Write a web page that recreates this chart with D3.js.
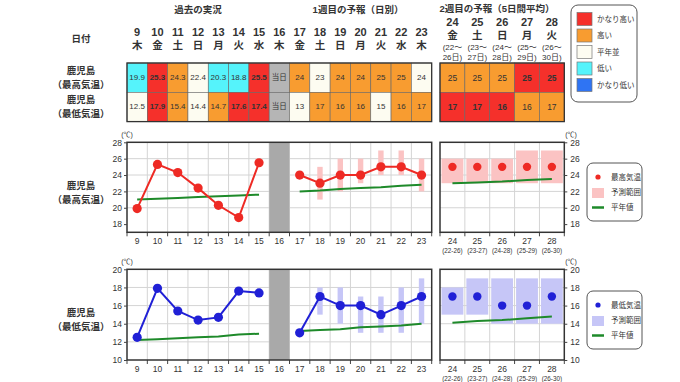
<!DOCTYPE html>
<html>
<head>
<meta charset="utf-8">
<script src="https://cdn.jsdelivr.net/npm/d3@7"></script>
<style>
  body { margin: 0; background: #fff; }
  svg text { font-family: "Liberation Sans", "Noto Sans CJK JP", sans-serif; fill: #333; }
</style>
</head>
<body>
<svg id="chart" width="680" height="382"></svg>
<script>
// days / labels
const days = ['9','10','11','12','13','14','15','16','17','18','19','20','21','22','23'];
const weekdays = ['木','金','土','日','月','火','水','木','金','土','日','月','火','水','木'];
const pastDays = ['9','10','11','12','13','14','15'];
const week1Days = ['17','18','19','20','21','22','23'];
const week2Days = ['24','25','26','27','28'];
const week2Weekdays = ['金','土','日','月','火'];
const week2From = ['22','23','24','25','26'];
const week2To = ['26','27','28','29','30'];

// table
const hiTable = ['19.9','25.3','24.3','22.4','20.3','18.8','25.5','当日','24','23','24','24','25','25','24'];
const hiClass = ['low','vhigh','high','normal','low','low','vhigh','today','high','normal','high','high','high','high','normal'];
const loTable = ['12.5','17.9','15.4','14.4','14.7','17.6','17.4','当日','13','17','16','16','15','16','17'];
const loClass = ['normal','vhigh','high','normal','high','vhigh','vhigh','today','normal','high','high','high','normal','high','high'];
const hiTable2 = ['25','25','25','25','25'];
const hiClass2 = ['high','high','high','vhigh','vhigh'];
const loTable2 = ['17','17','16','16','17'];
const loClass2 = ['vhigh','vhigh','vhigh','high','high'];

// max temp
const hiObs = [19.9, 25.3, 24.3, 22.4, 20.3, 18.8, 25.5];
const hiNormPast = [21.0, 21.1, 21.2, 21.3, 21.4, 21.5, 21.6];
const hiFcst = [24, 23, 24, 24, 25, 25, 24];
const hiFcstLo = [null, 21, 22, 23, 24, 24, 22];
const hiFcstHi = [null, 25, 26, 26, 27, 27, 26];
const hiNormWk1 = [22.0, 22.1, 22.3, 22.4, 22.5, 22.7, 22.8];
const hiWk2 = [25, 25, 25, 25, 25];
const hiWk2Lo = [23, 23, 23, 23, 23];
const hiWk2Hi = [26, 26, 26, 27, 27];
const hiNormWk2 = [23.0, 23.1, 23.2, 23.4, 23.5];

// min temp
const loObs = [12.5, 17.9, 15.4, 14.4, 14.7, 17.6, 17.4];
const loNormPast = [12.2, 12.3, 12.4, 12.5, 12.6, 12.8, 12.9];
const loFcst = [13, 17, 16, 16, 15, 16, 17];
const loFcstLo = [null, 15, 14, 13, 13, 13, 14];
const loFcstHi = [null, 18, 18, 17, 17, 18, 19];
const loNormWk1 = [13.2, 13.3, 13.4, 13.6, 13.7, 13.8, 14.0];
const loWk2 = [17, 17, 16, 16, 17];
const loWk2Lo = [15, 15, 14, 14, 14];
const loWk2Hi = [18, 19, 19, 19, 19];
const loNormWk2 = [14.1, 14.3, 14.4, 14.6, 14.8];

const hiTicks = [18, 20, 22, 24, 26, 28];
const loTicks = [10, 12, 14, 16, 18, 20];

const colorLegend = [
  {key: 'vhigh', label: 'かなり高い'},
  {key: 'high', label: '高い'},
  {key: 'normal', label: '平年並'},
  {key: 'low', label: '低い'},
  {key: 'vlow', label: 'かなり低い'}
];

const cellFill = {vhigh: '#f5302b', high: '#f89c30', normal: '#fdfcf1', low: '#55f3fb', vlow: '#2f74f3', today: '#b5b5b5'};
const cellText = {vhigh: '#fff', high: '#6e4714', normal: '#555', low: '#2d3f55', today: '#eee'};

const svg = d3.select('#chart');
svg.append('rect').attr('width', 680).attr('height', 382).attr('fill', '#fff');

const x1 = d3.scaleBand().domain(days).range([127, 431.7]);
const x2 = d3.scaleBand().domain(week2Days).range([440, 564.3]);
const c1 = d => x1(d) + x1.bandwidth() / 2;
const c2 = d => x2(d) + x2.bandwidth() / 2;

// ---------- header ----------
const head = svg.append('g').attr('font-weight', 'bold');
head.append('text').attr('x', c1('12')).attr('y', 9).attr('text-anchor', 'middle')
  .attr('dominant-baseline', 'central').attr('font-size', 9.5).text('過去の実況');
head.append('text').attr('x', 358).attr('y', 9).attr('text-anchor', 'middle')
  .attr('dominant-baseline', 'central').attr('font-size', 9.5).text('1週目の予報（日別）');
head.append('text').attr('x', 497).attr('y', 8).attr('text-anchor', 'middle')
  .attr('dominant-baseline', 'central').attr('font-size', 9.5).text('2週目の予報（5日間平均）');
head.append('text').attr('x', 81).attr('y', 38).attr('text-anchor', 'middle')
  .attr('dominant-baseline', 'central').attr('font-size', 9.5).text('日付');

head.selectAll('.day').data(days).join('text')
  .attr('x', d => c1(d)).attr('y', 32).attr('text-anchor', 'middle')
  .attr('dominant-baseline', 'central').attr('font-size', 11).text(d => d);
head.selectAll('.wd').data(days).join('text')
  .attr('x', d => c1(d)).attr('y', 45).attr('text-anchor', 'middle')
  .attr('dominant-baseline', 'central').attr('font-size', 10.5).text((d, i) => weekdays[i]);

week2Days.forEach((d, i) => {
  const g = head.append('g').attr('text-anchor', 'middle');
  g.append('text').attr('x', c2(d)).attr('y', 22).attr('dominant-baseline', 'central')
    .attr('font-size', 11).text(d);
  g.append('text').attr('x', c2(d)).attr('y', 34.5).attr('dominant-baseline', 'central')
    .attr('font-size', 10.5).text(week2Weekdays[i]);
  g.append('text').attr('x', c2(d)).attr('y', 47).attr('dominant-baseline', 'central')
    .attr('font-size', 8).attr('font-weight', 'normal').text('(' + week2From[i] + '〜');
  g.append('text').attr('x', c2(d)).attr('y', 57.5).attr('dominant-baseline', 'central')
    .attr('font-size', 8).attr('font-weight', 'normal').text(week2To[i] + '日)');
});

// ---------- table ----------
const rowTop = 63, rowH = 29.3;

function rowLabel(y, l1, l2) {
  const g = svg.append('g').attr('text-anchor', 'middle').attr('font-size', 9.5).attr('font-weight', 'bold');
  g.append('text').attr('x', 81).attr('y', y - 7).attr('dominant-baseline', 'central').attr('fill', '#555').text(l1);
  g.append('text').attr('x', 81).attr('y', y + 7).attr('dominant-baseline', 'central').attr('fill', '#555').text(l2);
}
rowLabel(rowTop + rowH / 2, '鹿児島', '（最高気温）');
rowLabel(rowTop + rowH * 1.5, '鹿児島', '（最低気温）');

function tableRow(keys, vals, cls, x, y, fs) {
  const g = svg.append('g');
  keys.forEach((d, i) => {
    g.append('rect').attr('x', x(d)).attr('y', y).attr('width', x.bandwidth()).attr('height', rowH)
      .attr('fill', cellFill[cls[i]]).attr('stroke', '#666').attr('stroke-width', 0.6);
    g.append('text').attr('x', x(d) + x.bandwidth() / 2).attr('y', y + rowH / 2)
      .attr('text-anchor', 'middle').attr('dominant-baseline', 'central')
      .attr('font-size', cls[i] === 'today' ? 7.5 : fs)
      .attr('font-weight', cls[i] === 'vhigh' ? 'bold' : 'normal')
      .attr('fill', cellText[cls[i]]).text(vals[i]);
  });
}
tableRow(days, hiTable, hiClass, x1, rowTop, 8);
tableRow(days, loTable, loClass, x1, rowTop + rowH, 8);
tableRow(week2Days, hiTable2, hiClass2, x2, rowTop, 8.5);
tableRow(week2Days, loTable2, loClass2, x2, rowTop + rowH, 8.5);

[x1, x2].forEach(x => {
  svg.append('rect').attr('x', x.range()[0]).attr('y', rowTop)
    .attr('width', x.range()[1] - x.range()[0]).attr('height', rowH * 2)
    .attr('fill', 'none').attr('stroke', '#333').attr('stroke-width', 1.3);
});

// colour legend
const cl = svg.append('g');
cl.append('rect').attr('x', 571).attr('y', 5).attr('width', 66).attr('height', 97).attr('rx', 7)
  .attr('fill', '#fff').attr('stroke', '#555').attr('stroke-width', 1);
colorLegend.forEach((d, i) => {
  const y = 19 + i * 16.5;
  cl.append('rect').attr('x', 577).attr('y', y - 6.5).attr('width', 15).attr('height', 13)
    .attr('fill', cellFill[d.key]).attr('stroke', '#777').attr('stroke-width', 0.7);
  cl.append('text').attr('x', 597).attr('y', y).attr('dominant-baseline', 'central')
    .attr('font-size', 7.5).attr('fill', '#444').text(d.label);
});

// ---------- charts ----------
function panel(cfg) {
  const y = d3.scaleLinear().domain(cfg.domain).range(cfg.range);
  const top = cfg.range[1], bottom = cfg.range[0];
  const g = svg.append('g');

  // row label
  const lab = g.append('g').attr('text-anchor', 'middle').attr('font-size', 9.5).attr('font-weight', 'bold');
  const my = (top + bottom) / 2 + 5;
  lab.append('text').attr('x', 81).attr('y', my - 7).attr('dominant-baseline', 'central').attr('fill', '#555').text('鹿児島');
  lab.append('text').attr('x', 81).attr('y', my + 7).attr('dominant-baseline', 'central').attr('fill', '#555').text(cfg.label);

  [x1, x2].forEach(x => {
    const [l, r] = x.range();
    // horizontal grid
    g.append('g').selectAll('line').data(cfg.ticks.slice(1, -1)).join('line')
      .attr('x1', l).attr('x2', r).attr('y1', d => y(d)).attr('y2', d => y(d))
      .attr('stroke', '#d4d4d4').attr('stroke-width', 1);
    // vertical grid at band edges + ticks below
    const edges = x.domain().slice(1).map(d => x(d));
    g.append('g').selectAll('line').data(edges).join('line')
      .attr('x1', d => d).attr('x2', d => d).attr('y1', top).attr('y2', bottom)
      .attr('stroke', '#d4d4d4').attr('stroke-width', 1);
    g.append('g').selectAll('line').data(edges.concat([l, r])).join('line')
      .attr('x1', d => d).attr('x2', d => d).attr('y1', bottom).attr('y2', bottom + 4)
      .attr('stroke', '#444').attr('stroke-width', 1);
  });

  // today band
  g.append('rect').attr('x', x1('16')).attr('y', top).attr('width', x1.bandwidth())
    .attr('height', bottom - top).attr('fill', '#a9a9a9');

  // ranges week 1
  g.append('g').selectAll('rect').data(week1Days.map((d, i) => ({d, lo: cfg.fLo[i], hi: cfg.fHi[i]})).filter(v => v.lo != null))
    .join('rect')
    .attr('x', v => c1(v.d) - 2.7).attr('width', 5.4)
    .attr('y', v => y(v.hi)).attr('height', v => y(v.lo) - y(v.hi))
    .attr('fill', cfg.rangeColor);
  // ranges week 2
  g.append('g').selectAll('rect').data(week2Days.map((d, i) => ({d, lo: cfg.w2Lo[i], hi: cfg.w2Hi[i]})))
    .join('rect')
    .attr('x', v => x2(v.d) + 1.5).attr('width', x2.bandwidth() - 3)
    .attr('y', v => y(v.hi)).attr('height', v => y(v.lo) - y(v.hi))
    .attr('fill', cfg.rangeColor);

  // normals
  const norm = (keys, vals, cx) => d3.line().x((v, i) => cx(keys[i])).y(v => y(v))(vals);
  [[pastDays, cfg.nPast, c1], [week1Days, cfg.nWk1, c1], [week2Days, cfg.nWk2, c2]].forEach(([k, v, cx]) => {
    g.append('path').attr('d', norm(k, v, cx)).attr('fill', 'none')
      .attr('stroke', '#1e8a2a').attr('stroke-width', 2);
  });

  // observed & forecast lines
  [[pastDays, cfg.obs], [week1Days, cfg.fcst]].forEach(([k, v]) => {
    g.append('path').attr('d', d3.line().x((d, i) => c1(k[i])).y(d => y(d))(v))
      .attr('fill', 'none').attr('stroke', cfg.color).attr('stroke-width', 2);
    g.append('g').selectAll('circle').data(v).join('circle')
      .attr('cx', (d, i) => c1(k[i])).attr('cy', d => y(d)).attr('r', 4.6)
      .attr('fill', cfg.color);
  });
  g.append('g').selectAll('circle').data(cfg.w2).join('circle')
    .attr('cx', (d, i) => c2(week2Days[i])).attr('cy', d => y(d)).attr('r', 4.2)
    .attr('fill', cfg.color);

  // frames
  [x1, x2].forEach(x => {
    const [l, r] = x.range();
    g.append('rect').attr('x', l).attr('y', top).attr('width', r - l).attr('height', bottom - top)
      .attr('fill', 'none').attr('stroke', '#333').attr('stroke-width', 1.5);
  });

  // y axes
  const left = g.append('g').attr('transform', `translate(${x1.range()[0]},0)`)
    .call(d3.axisLeft(y).tickValues(cfg.ticks).tickSize(3).tickPadding(2));
  const right = g.append('g').attr('transform', `translate(${x2.range()[1]},0)`)
    .call(d3.axisRight(y).tickValues(cfg.ticks).tickSize(3).tickPadding(3));
  [left, right].forEach(a => {
    a.select('.domain').remove();
    a.selectAll('.tick line').attr('stroke', '#444');
    a.selectAll('.tick text').attr('font-size', 8.5).attr('fill', '#333')
      .style('font-family', '"Liberation Sans", sans-serif');
  });
  g.append('text').attr('x', 127).attr('y', top - 8).attr('text-anchor', 'middle')
    .attr('dominant-baseline', 'central').attr('font-size', 7).text('(℃)');
  g.append('text').attr('x', 571).attr('y', top - 8).attr('text-anchor', 'middle')
    .attr('dominant-baseline', 'central').attr('font-size', 7).text('(℃)');

  // x labels
  const xl = bottom + 9.5;
  g.append('g').call(d3.axisBottom(x1).tickSize(0).tickPadding(0))
    .attr('transform', `translate(0,${xl - 4})`)
    .call(a => a.select('.domain').remove())
    .call(a => a.selectAll('text').attr('font-size', 8.5).attr('fill', '#333'));
  g.append('g').call(d3.axisBottom(x2).tickSize(0).tickPadding(0))
    .attr('transform', `translate(0,${xl - 4})`)
    .call(a => a.select('.domain').remove())
    .call(a => a.selectAll('text').attr('font-size', 8.5).attr('fill', '#333'));
  g.append('g').selectAll('text').data(week2Days).join('text')
    .attr('x', d => c2(d)).attr('y', xl + 9).attr('text-anchor', 'middle')
    .attr('dominant-baseline', 'central').attr('font-size', 6.3)
    .text((d, i) => '(' + week2From[i] + '-' + week2To[i] + ')');

  // legend
  const ly = cfg.legendY;
  const lg = g.append('g');
  lg.append('rect').attr('x', 587).attr('y', ly).attr('width', 55).attr('height', 58).attr('rx', 6)
    .attr('fill', '#fff').attr('stroke', '#555').attr('stroke-width', 1);
  lg.append('circle').attr('cx', 598).attr('cy', ly + 14).attr('r', 2.6).attr('fill', cfg.color);
  lg.append('rect').attr('x', 592).attr('y', ly + 25).attr('width', 12).attr('height', 10).attr('fill', cfg.rangeColor);
  lg.append('line').attr('x1', 592).attr('x2', 604).attr('y1', ly + 44.5).attr('y2', ly + 44.5)
    .attr('stroke', '#1e8a2a').attr('stroke-width', 2.5);
  [cfg.legendLabel, '予測範囲', '平年値'].forEach((t, i) => {
    lg.append('text').attr('x', 611).attr('y', ly + 14 + i * 15.3).attr('dominant-baseline', 'central')
      .attr('font-size', 7.5).attr('fill', '#444').text(t);
  });
}

panel({
  domain: [17, 28], range: [232.3, 142.3], ticks: hiTicks,
  label: '（最高気温）', legendLabel: '最高気温', legendY: 163,
  color: '#ee2a24', rangeColor: '#fbc3c3',
  obs: hiObs, nPast: hiNormPast, fcst: hiFcst, fLo: hiFcstLo, fHi: hiFcstHi,
  nWk1: hiNormWk1, w2: hiWk2, w2Lo: hiWk2Lo, w2Hi: hiWk2Hi, nWk2: hiNormWk2
});
panel({
  domain: [10, 20], range: [360, 269.3], ticks: loTicks,
  label: '（最低気温）', legendLabel: '最低気温', legendY: 291,
  color: '#2020d6', rangeColor: '#c6c6f7',
  obs: loObs, nPast: loNormPast, fcst: loFcst, fLo: loFcstLo, fHi: loFcstHi,
  nWk1: loNormWk1, w2: loWk2, w2Lo: loWk2Lo, w2Hi: loWk2Hi, nWk2: loNormWk2
});
</script>
</body>
</html>
